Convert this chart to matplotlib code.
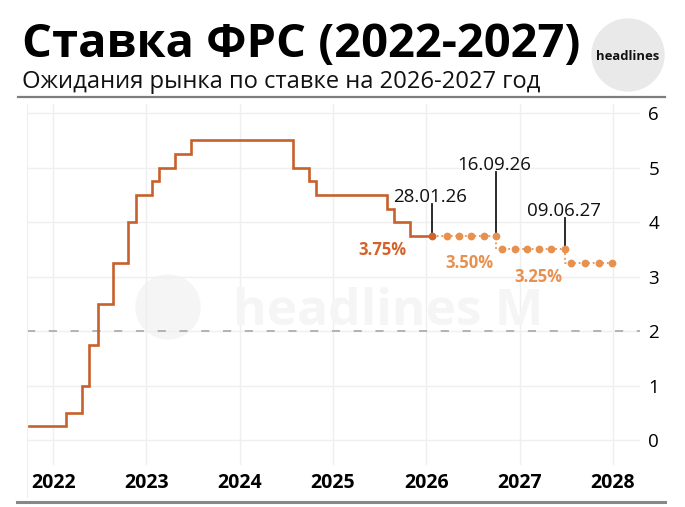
#!/usr/bin/env python3
"""Fed funds rate step chart with market expectations for 2026-2027."""

import matplotlib

matplotlib.use("Agg")
from matplotlib import font_manager
from matplotlib.lines import Line2D
from matplotlib.patches import Ellipse
import matplotlib.pyplot as plt

# historical upper bound of the rate, step changes (decimal years)
rate_dates = [2021.738, 2022.137, 2022.309, 2022.384, 2022.481, 2022.643, 2022.804,
              2022.891, 2023.063, 2023.138, 2023.311, 2023.483, 2024.571, 2024.743,
              2024.818, 2025.583, 2025.658, 2025.830, 2026.056]
rate_values = [0.25, 0.50, 1.00, 1.75, 2.50, 3.25, 4.00, 4.50, 4.75, 5.00, 5.25, 5.50,
               5.00, 4.75, 4.50, 4.25, 4.00, 3.75, 3.75]

# market expectations (dotted path)
fc_dates = [2026.056, 2026.218, 2026.347, 2026.476, 2026.616, 2026.745,
            2026.810, 2026.950, 2027.079, 2027.208, 2027.338, 2027.488,
            2027.553, 2027.704, 2027.854, 2027.994]
fc_values = [3.75, 3.75, 3.75, 3.75, 3.75, 3.75,
             3.50, 3.50, 3.50, 3.50, 3.50, 3.50,
             3.25, 3.25, 3.25, 3.25]

# meeting callouts
event_labels = ["28.01.26", "16.09.26", "09.06.27"]
event_dates = [2026.056, 2026.745, 2027.488]
event_values = [3.75, 3.75, 3.50]
event_tops = [4.33, 4.92, 4.07]

# level labels
level_labels = ["3.75%", "3.50%", "3.25%"]
level_dates = [2026.056, 2026.810, 2027.553]
level_values = [3.75, 3.50, 3.25]

years = [2022, 2023, 2024, 2025, 2026, 2027, 2028]
y_ticks = [0, 1, 2, 3, 4, 5, 6]

HIST = "#c8602c"
FC = "#e8914f"
DARK = "#d4622a"

names = {f.name for f in font_manager.fontManager.ttflist}
TITLE_FONT = "Liberation Sans Narrow" if "Liberation Sans Narrow" in names else "Open Sans"
plt.rcParams["font.family"] = ["Open Sans", "DejaVu Sans"]

W, H = 685, 507
fig = plt.figure(figsize=(W / 100, H / 100), dpi=100)
ax = fig.add_axes([27 / W, 1 - 465 / H, (640 - 27) / W, (465 - 104) / H])


def fit_width(txt, target_px):
    fig.canvas.draw()
    w = txt.get_window_extent(fig.canvas.get_renderer()).width
    txt.set_fontsize(txt.get_fontsize() * target_px / w)


# watermark
fig.add_artist(Ellipse((168 / W, 1 - 307 / H), 64 / W, 64 / H,
                       transform=fig.transFigure, color="#f5f5f5", zorder=0))
wm = fig.text(388 / W, 1 - 312 / H, "headlines M", ha="center", va="center",
              fontsize=40, fontweight="bold", color="#f5f5f5", zorder=0)

ax.set_facecolor("none")
ax.plot(rate_dates, rate_values, drawstyle="steps-post", color=HIST, lw=1.9, zorder=3,
        solid_joinstyle="miter")
ax.plot(fc_dates, fc_values, drawstyle="steps-pre", color=FC, lw=1.3, ls=(0, (1, 1.6)),
        zorder=3)
ax.plot(fc_dates[1:], fc_values[1:], "o", color=FC, ms=5.6, mec="none", zorder=4)
ax.plot(fc_dates[:1], fc_values[:1], "o", color=DARK, ms=5.6, mec="none", zorder=5)

for lab, x, y0, y1 in zip(event_labels, event_dates, event_values, event_tops):
    ax.plot([x, x], [y0, y1], color="#1a1a1a", lw=1.3, zorder=2)
    ax.annotate(lab, xy=(x, y1), xytext=(-1, 1.5), textcoords="offset points",
                ha="center", va="baseline", fontsize=13.5, color="#111111")

offsets = [(-35.5, -10), (-23.5, -10), (-23.5, -10)]
for i, (lab, x, y) in enumerate(zip(level_labels, level_dates, level_values)):
    ax.annotate(lab, xy=(x, y), xytext=offsets[i], textcoords="offset points",
                ha="center", va="center", fontsize=12, fontweight="bold",
                color=DARK if i == 0 else FC)

ax.axhline(2, color="#b3b3b3", lw=1.4, ls=(0, (4.2, 7)), zorder=1)

ax.set_xlim(2021.72, 2028.29)
ax.set_ylim(-0.46, 6.17)
ax.set_xticks(years)
ax.set_xticklabels([str(y) for y in years], fontweight="bold", fontsize=14)
ax.set_yticks(y_ticks)
ax.set_yticklabels([str(v) for v in y_ticks], fontsize=13.5)
ax.yaxis.tick_right()
ax.tick_params(axis="both", length=0)
ax.tick_params(axis="x", pad=6)
ax.tick_params(axis="y", pad=6)
ax.grid(color="#efefef", lw=1)
ax.set_axisbelow(True)
for side in ["top", "right", "bottom"]:
    ax.spines[side].set_visible(False)
ax.spines["left"].set_color("#eeeeee")
fig.add_artist(Line2D([27 / W] * 2, [1 - 465 / H, 1 - 497 / H], color="#eeeeee", lw=0.8))

# header
title = fig.text(22 / W, 1 - 57 / H, "Ставка ФРС (2022-2027)", ha="left", va="baseline",
                 fontsize=40, fontweight="bold", family=[TITLE_FONT, "Open Sans"],
                 color="#000000")
subtitle = fig.text(22 / W, 1 - 88 / H, "Ожидания рынка по ставке на 2026-2027 год",
                    ha="left", va="baseline", fontsize=19, color="#111111")
fig.add_artist(Line2D([18 / W, 665 / W], [1 - 97 / H] * 2, color="#7d7d7d", lw=1.6))
fig.add_artist(Line2D([17 / W, 665 / W], [1 - 502 / H] * 2, color="#888888", lw=2.2))

# logo
fig.add_artist(Ellipse((628 / W, 1 - 55 / H), 72 / W, 72 / H, transform=fig.transFigure,
                       color="#e9e9e9", zorder=1))
logo = fig.text(628 / W, 1 - 56 / H, "headlines", ha="center", va="center",
                fontsize=9, fontweight="bold", color="#111111", zorder=2)

fit_width(title, 558)
fit_width(subtitle, 518)
fit_width(logo, 63)
fit_width(wm, 310)

fig.savefig("out.png", dpi=100)
plt.close(fig)
